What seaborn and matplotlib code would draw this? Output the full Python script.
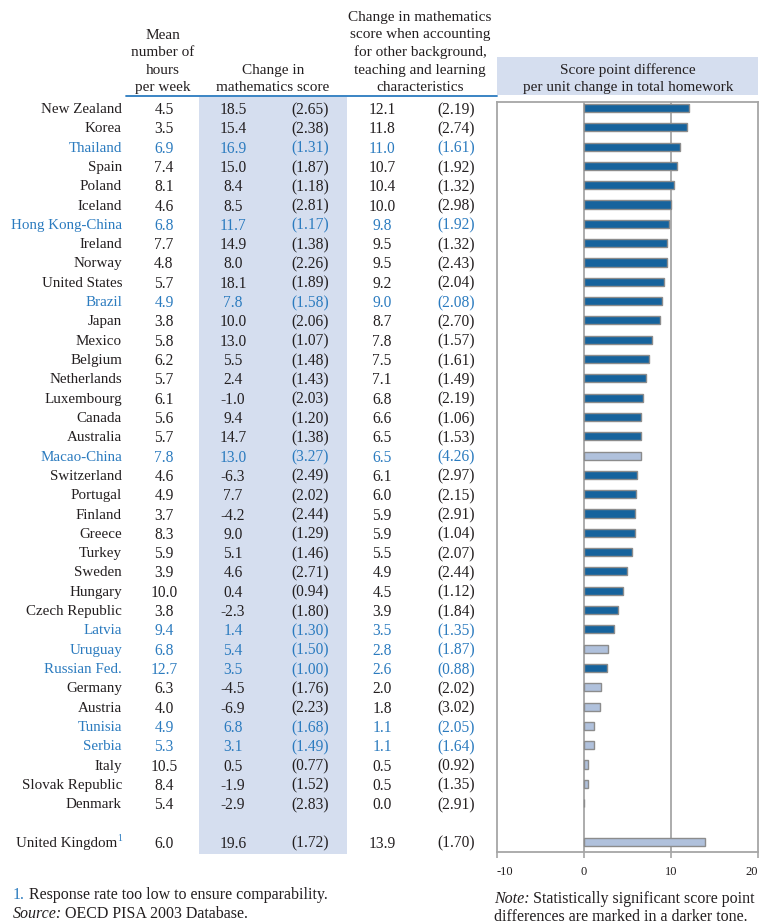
import matplotlib
matplotlib.use('Agg')
import matplotlib.pyplot as plt
import seaborn as sns
import pandas as pd
from matplotlib.patches import Rectangle

# ---------------- data ----------------
countries = ["New Zealand", "Korea", "Thailand", "Spain", "Poland", "Iceland",
             "Hong Kong-China", "Ireland", "Norway", "United States", "Brazil",
             "Japan", "Mexico", "Belgium", "Netherlands", "Luxembourg", "Canada",
             "Australia", "Macao-China", "Switzerland", "Portugal", "Finland",
             "Greece", "Turkey", "Sweden", "Hungary", "Czech Republic", "Latvia",
             "Uruguay", "Russian Fed.", "Germany", "Austria", "Tunisia", "Serbia",
             "Italy", "Slovak Republic", "Denmark", "United Kingdom"]
hours = [4.5, 3.5, 6.9, 7.4, 8.1, 4.6, 6.8, 7.7, 4.8, 5.7, 4.9, 3.8, 5.8, 6.2,
         5.7, 6.1, 5.6, 5.7, 7.8, 4.6, 4.9, 3.7, 8.3, 5.9, 3.9, 10.0, 3.8, 9.4,
         6.8, 12.7, 6.3, 4.0, 4.9, 5.3, 10.5, 8.4, 5.4, 6.0]
change = [18.5, 15.4, 16.9, 15.0, 8.4, 8.5, 11.7, 14.9, 8.0, 18.1, 7.8, 10.0,
          13.0, 5.5, 2.4, -1.0, 9.4, 14.7, 13.0, -6.3, 7.7, -4.2, 9.0, 5.1, 4.6,
          0.4, -2.3, 1.4, 5.4, 3.5, -4.5, -6.9, 6.8, 3.1, 0.5, -1.9, -2.9, 19.6]
change_se = [2.65, 2.38, 1.31, 1.87, 1.18, 2.81, 1.17, 1.38, 2.26, 1.89, 1.58,
             2.06, 1.07, 1.48, 1.43, 2.03, 1.20, 1.38, 3.27, 2.49, 2.02, 2.44,
             1.29, 1.46, 2.71, 0.94, 1.80, 1.30, 1.50, 1.00, 1.76, 2.23, 1.68,
             1.49, 0.77, 1.52, 2.83, 1.72]
adjusted = [12.1, 11.8, 11.0, 10.7, 10.4, 10.0, 9.8, 9.5, 9.5, 9.2, 9.0, 8.7,
            7.8, 7.5, 7.1, 6.8, 6.6, 6.5, 6.5, 6.1, 6.0, 5.9, 5.9, 5.5, 4.9, 4.5,
            3.9, 3.5, 2.8, 2.6, 2.0, 1.8, 1.1, 1.1, 0.5, 0.5, 0.0, 13.9]
adjusted_se = [2.19, 2.74, 1.61, 1.92, 1.32, 2.98, 1.92, 1.32, 2.43, 2.04, 2.08,
               2.70, 1.57, 1.61, 1.49, 2.19, 1.06, 1.53, 4.26, 2.97, 2.15, 2.91,
               1.04, 2.07, 2.44, 1.12, 1.84, 1.35, 1.87, 0.88, 2.02, 3.02, 2.05,
               1.64, 0.92, 1.35, 2.91, 1.70]
partner = ["Thailand", "Hong Kong-China", "Brazil", "Macao-China", "Latvia",
           "Uruguay", "Russian Fed.", "Tunisia", "Serbia"]
not_significant = ["Macao-China", "Uruguay", "Germany", "Austria", "Tunisia",
                   "Serbia", "Italy", "Slovak Republic", "Denmark", "United Kingdom"]
x_ticks = [-10, 0, 10, 20]

head_hours = ["Mean", "number of", "hours", "per week"]
head_change = ["Change in", "mathematics score"]
head_adjusted = ["Change in mathematics", "score when accounting",
                 "for other background,", "teaching and learning", "characteristics"]
head_bar = ["Score point difference", "per unit change in total homework"]

# ---------------- style ----------------
sns.set_theme(style='white')
plt.rcParams['font.family'] = ['Liberation Serif', 'DejaVu Serif']
plt.rcParams['axes.unicode_minus'] = False

TXT = '#231f20'
BLUE_TXT = '#2b7bbf'
SHADE = '#d5deef'
DARK = '#0066b3'
LIGHT = '#a9bfe3'
GRID = '#a6a6a6'
FS = 11.2
NFS = 10.8
FFS = 11.5

W, H = 759, 924
fig = plt.figure(figsize=(W / 100, H / 100), dpi=100)
bg = fig.add_axes([0, 0, 1, 1])
bg.set_xlim(0, W)
bg.set_ylim(H, 0)
bg.axis('off')

# background shading
bg.add_patch(Rectangle((199, 97), 148, 757, color=SHADE, zorder=0, lw=0))
bg.add_patch(Rectangle((497, 57), 261, 38, color=SHADE, zorder=0, lw=0))
bg.plot([126, 497], [95.5, 95.5], color=BLUE_TXT, lw=1.3)

# headers
for lines, xc, ys in [(head_hours, 163, [34, 51, 69, 86]),
                      (head_change, 273, [69, 86]),
                      (head_adjusted, 420, [16, 33, 51, 69, 86]),
                      (head_bar, 628, [69, 86])]:
    for t, y in zip(lines, ys):
        bg.text(xc, y, t, ha='center', va='center_baseline', fontsize=11, color=TXT)

# table rows
row0, dy = 108, 19.31
positions = list(range(len(countries) - 1)) + [len(countries)]
for i, c in enumerate(countries):
    y = row0 + dy * positions[i]
    col = BLUE_TXT if c in partner else TXT
    if c == "United Kingdom":
        bg.text(117, y, c, ha='right', va='center_baseline', fontsize=NFS, color=col)
        bg.text(117.5, y - 4, "1", ha='left', va='center_baseline', fontsize=7, color=BLUE_TXT)
    else:
        bg.text(122, y, c, ha='right', va='center_baseline', fontsize=NFS, color=col)
    bg.text(164, y, f"{hours[i]:.1f}", ha='center', va='center_baseline', fontsize=FS, color=col)
    bg.text(233, y, f"{change[i]:.1f}", ha='center', va='center_baseline', fontsize=FS, color=col)
    bg.text(310, y, f"({change_se[i]:.2f})", ha='center', va='center_baseline', fontsize=FS, color=col)
    bg.text(382, y, f"{adjusted[i]:.1f}", ha='center', va='center_baseline', fontsize=FS, color=col)
    bg.text(456, y, f"({adjusted_se[i]:.2f})", ha='center', va='center_baseline', fontsize=FS, color=col)

# footer
bg.text(13, 893, "1.", ha='left', va='center_baseline', fontsize=FFS, color=BLUE_TXT)
bg.text(29, 893, "Response rate too low to ensure comparability.", ha='left',
        va='center_baseline', fontsize=FFS, color=TXT)
bg.text(13, 912, "Source:", ha='left', va='center_baseline', fontsize=FFS,
        color=TXT, style='italic')
bg.text(65, 912, "OECD PISA 2003 Database.", ha='left', va='center_baseline',
        fontsize=FFS, color=TXT)
bg.text(494, 897, "Note:", ha='left', va='center_baseline', fontsize=FFS,
        color=TXT, style='italic')
bg.text(533, 897, "Statistically significant score point", ha='left',
        va='center_baseline', fontsize=FFS, color=TXT)
bg.text(494, 915, "differences are marked in a darker tone.", ha='left',
        va='center_baseline', fontsize=FFS, color=TXT)

# ---------------- bar chart ----------------
ax = fig.add_axes([497 / W, (H - 852) / H, (758 - 497) / W, (852 - 102) / H])
df = pd.DataFrame({
    'country': countries,
    'value': adjusted,
    'sig': ['Not significant' if c in not_significant else 'Significant' for c in countries],
})
order = countries[:-1] + [' '] + [countries[-1]]
sns.barplot(data=df, x='value', y='country', hue='sig', order=order,
            hue_order=['Significant', 'Not significant'],
            palette={'Significant': DARK, 'Not significant': LIGHT},
            dodge=False, width=0.42, edgecolor='#8c8c8c', linewidth=1.0,
            legend=False, ax=ax, zorder=3)
ax.set_xlim(-10, 20)
ax.set_ylim(38.53, -0.31)
ax.axvline(0, color=GRID, lw=1.3, zorder=1)
ax.axvline(10, color=GRID, lw=1.3, zorder=1)
ax.set_xticks(x_ticks)
ax.set_xticklabels([str(t) for t in x_ticks])
ax.set_yticks([])
ax.set_xlabel('')
ax.set_ylabel('')
for s in ax.spines.values():
    s.set_color(GRID)
    s.set_linewidth(1.3)
ax.tick_params(axis='x', bottom=True, direction='out', length=4, width=1.2,
               color=GRID, labelsize=9, labelcolor=TXT, pad=6)
labels = ax.get_xticklabels()
labels[0].set_horizontalalignment('left')
labels[-1].set_horizontalalignment('right')

fig.savefig('out.png', dpi=100)
